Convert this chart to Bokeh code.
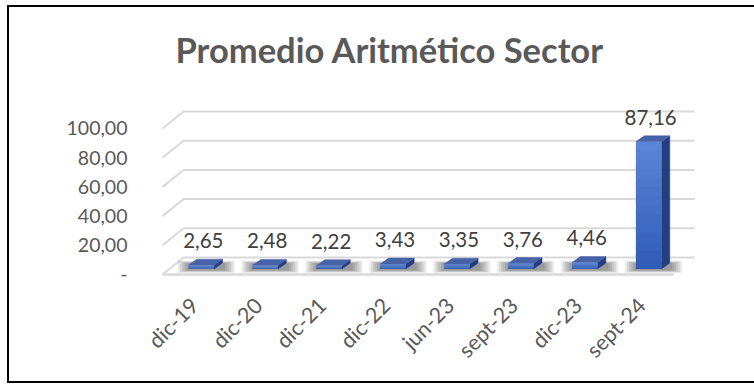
import math
from bokeh.plotting import figure
from bokeh.models import Range1d, FixedTicker, ColumnDataSource
from bokeh.embed import file_html
from bokeh.resources import INLINE
from bokeh.core.properties import value

# ---- data ----
categories = ["dic-19", "dic-20", "dic-21", "dic-22", "jun-23", "sept-23", "dic-23", "sept-24"]
values = [2.65, 2.48, 2.22, 3.43, 3.35, 3.76, 4.46, 87.16]
y_ticks = [0, 20, 40, 60, 80, 100]
y_tick_labels = ["-", "20,00", "40,00", "60,00", "80,00", "100,00"]
title_text = "Promedio Aritmético Sector"

# ---- style / 3D geometry constants ----
FONT = "Lato"
DX = 0.329      # full depth offset, category units
DY = 11.64      # full depth offset, value units
BAR_DEPTH_POS = 0.33
BAR_HALF = 0.20
BAR_DDX = 0.13
BAR_DDY = 4.0
LABEL_GAP = 16.7
GRID_COLOR = "#D9D9D9"

n = len(categories)

border_css = {
    "background-image": "linear-gradient(#000,#000), linear-gradient(#000,#000), linear-gradient(#000,#000)",
    "background-size": "2px 378px, 760px 2px, 760px 2px",
    "background-position": "7px 5px, 7px 5px, 7px 381px",
    "background-repeat": "no-repeat",
    "background-color": "white",
}

p = figure(width=754, height=384, output_backend="svg", toolbar_location=None,
           x_range=Range1d(-0.188, 8.576), y_range=Range1d(-4.11, 122.6),
           min_border_left=150, min_border_right=44, min_border_top=95, min_border_bottom=104,
           styles=border_css)
p.outline_line_color = None
p.xgrid.visible = False
p.ygrid.visible = False
p.background_fill_color = "white"
p.border_fill_color = None

# title
p.title.text = title_text
p.title.align = "left"
p.title.offset = 25
p.title.standoff = 51
p.title.text_font = FONT
p.title.text_font_style = "bold"
p.title.text_font_size = "34.5px"
p.title.text_color = "#595959"

# floor
floor_x = [0, n, n + DX, DX]
floor_y = [0, 0, DY, DY]
p.patch(floor_x, floor_y, fill_color="white", line_color=None)
p.line([0, n], [0, 0], line_color=GRID_COLOR, line_width=2.5)

# gridlines (back wall + left diagonals)
gx, gy = [], []
for t in y_ticks:
    gx.append([0, DX, n + DX])
    gy.append([t, t + DY, t + DY])
p.multi_line(gx, gy, line_color=GRID_COLOR, line_width=2)

# bar geometry
bz = BAR_DEPTH_POS * DY
centers = [i + 0.5 + BAR_DEPTH_POS * DX for i in range(n)]
lefts = [c - BAR_HALF for c in centers]
rights = [c + BAR_HALF for c in centers]
tops = [bz + v for v in values]

# soft shadows
for k in range(6):
    sh = 0.03 * k
    p.quad(left=[l - 0.17 + sh for l in lefts], right=[r + BAR_DDX + 0.19 - sh for r in rights],
           bottom=[1.2 + 0.35 * k] * n, top=[bz + BAR_DDY + 1.5 - 0.35 * k] * n,
           fill_color="black", fill_alpha=0.08, line_color=None)

# side faces
side_xs = [[r, r + BAR_DDX, r + BAR_DDX, r] for r in rights]
side_ys = [[bz, bz + BAR_DDY, t + BAR_DDY, t] for t in tops]
p.patches(side_xs, side_ys, fill_color="#253F7E", line_color="#253F7E", line_width=0.5)

# top faces
top_xs = [[l, r, r + BAR_DDX, l + BAR_DDX] for l, r in zip(lefts, rights)]
top_ys = [[t, t, t + BAR_DDY, t + BAR_DDY] for t in tops]
p.patches(top_xs, top_ys, fill_color="#4862A8", line_color="#4862A8", line_width=0.5)

# front faces with vertical gradient
c_top = (92, 134, 214)
c_bot = (47, 92, 184)
N = 14
for s in range(N):
    f0, f1 = s / N, (s + 1) / N
    fm = (f0 + f1) / 2
    ext = 0.6 / N if s < N - 1 else 0.0
    col = "#%02x%02x%02x" % tuple(int(round(c_bot[j] + (c_top[j] - c_bot[j]) * fm)) for j in range(3))
    p.quad(left=lefts, right=rights,
           bottom=[bz + v * f0 for v in values], top=[bz + v * (f1 + ext) for v in values],
           fill_color=col, line_color=None)

# data labels
lab_src = ColumnDataSource(dict(
    x=[c + 0.03 for c in centers],
    y=[t + LABEL_GAP for t in tops],
    txt=[("%.2f" % v).replace(".", ",") for v in values],
))
p.text(x="x", y="y", text="txt", source=lab_src, text_align="center", text_baseline="middle",
       text_font=value(FONT), text_font_size="20.5px", text_color="#404040")

# y axis
p.yaxis.ticker = FixedTicker(ticks=y_ticks)
p.yaxis.major_label_overrides = {t: lab for t, lab in zip(y_ticks, y_tick_labels)}
p.yaxis.axis_line_color = None
p.yaxis.major_tick_line_color = None
p.yaxis.minor_tick_line_color = None
p.yaxis.major_label_standoff = 17
p.yaxis.major_label_text_font = FONT
p.yaxis.major_label_text_font_size = "19.5px"
p.yaxis.major_label_text_color = "#595959"

# x axis
x_ticks = [i + 0.5 for i in range(n)]
p.xaxis.ticker = FixedTicker(ticks=x_ticks)
p.xaxis.major_label_overrides = {t: c for t, c in zip(x_ticks, categories)}
p.xaxis.major_label_orientation = math.pi / 4
p.xaxis.axis_line_color = None
p.xaxis.major_tick_line_color = None
p.xaxis.minor_tick_line_color = None
p.xaxis.major_label_standoff = 15
p.xaxis.major_label_text_font = FONT
p.xaxis.major_label_text_font_size = "21.5px"
p.xaxis.major_label_text_color = "#595959"

open("out.html", "w").write(file_html(p, INLINE))
